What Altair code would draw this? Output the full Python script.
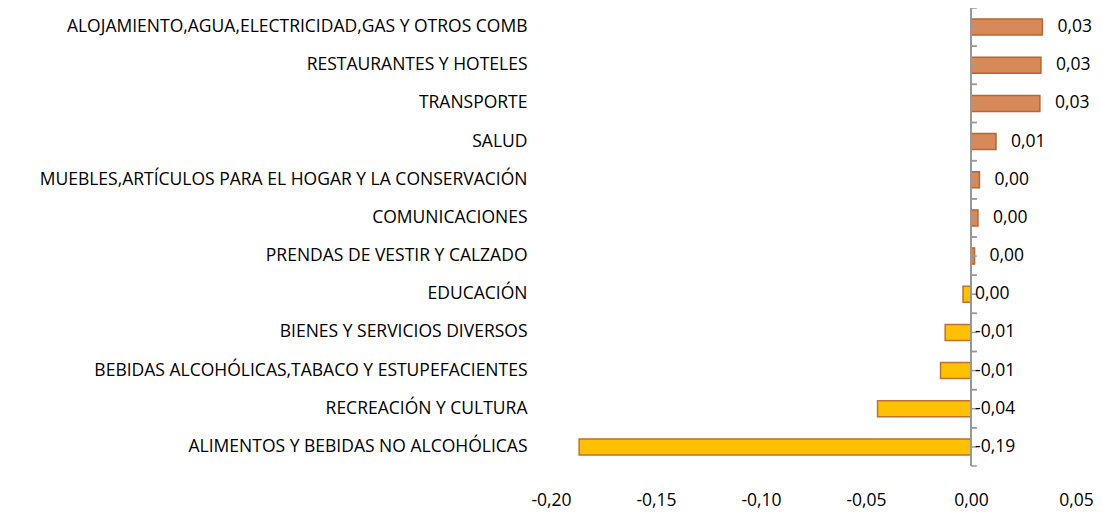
import altair as alt
import pandas as pd

categories = [
    "ALOJAMIENTO,AGUA,ELECTRICIDAD,GAS Y OTROS COMB",
    "RESTAURANTES Y HOTELES",
    "TRANSPORTE",
    "SALUD",
    "MUEBLES,ARTÍCULOS PARA EL HOGAR Y LA CONSERVACIÓN ",
    "COMUNICACIONES",
    "PRENDAS DE VESTIR Y CALZADO",
    "EDUCACIÓN",
    "BIENES Y SERVICIOS DIVERSOS",
    "BEBIDAS ALCOHÓLICAS,TABACO Y ESTUPEFACIENTES",
    "RECREACIÓN Y CULTURA",
    "ALIMENTOS Y BEBIDAS NO ALCOHÓLICAS",
]
values = [0.0340, 0.0333, 0.0328, 0.0119, 0.0040, 0.0033, 0.0017,
          -0.0038, -0.0123, -0.0145, -0.0445, -0.1866]
value_labels = ["0,03", "0,03", "0,03", "0,01", "0,00", "0,00", "0,00",
                "0,00", "-0,01", "-0,01", "-0,04", "-0,19"]
x_ticks = [-0.20, -0.15, -0.10, -0.05, 0.00, 0.05]

df = pd.DataFrame({"cat": categories, "v": values, "lab": value_labels})
df["lx"] = df["v"].clip(lower=0)
df["zero"] = 0.0
df["tickend"] = 0.0028

FONT = "Open Sans"
FS = 17.5
W, H = 525, 458

yscale = alt.Scale(paddingInner=0, paddingOuter=0)
xscale = alt.Scale(domain=[-0.2, 0.05], nice=False)

y_enc = alt.Y("cat:N", sort=categories, scale=yscale,
              axis=alt.Axis(title=None, ticks=False, domain=False,
                            labelPadding=24, labelLimit=700,
                            labelFontSize=FS, labelFont=FONT,
                            labelColor="#000000", labelAlign="right"))
x_enc = alt.X("v:Q", scale=xscale,
              axis=alt.Axis(title=None, values=x_ticks, grid=False,
                            ticks=False, domain=False, labelPadding=25,
                            labelFlush=False,
                            labelFontSize=FS, labelFont=FONT,
                            labelColor="#000000",
                            labelExpr="replace(replace(format(datum.value, '.2f'), '.', ','), '\u2212', '-')"))

base = alt.Chart(df)

bars = base.mark_bar(size=16, strokeWidth=1.5).encode(
    y=y_enc,
    x=x_enc,
    x2=alt.X2("zero:Q"),
    fill=alt.condition("datum.v >= 0", alt.value("#D8895A"), alt.value("#FFC000")),
    stroke=alt.condition("datum.v >= 0", alt.value("#B8652E"), alt.value("#BC7230")),
)

axis_line = base.mark_rule(color="#999999", strokeWidth=1.5).encode(
    x=alt.X("zero:Q", scale=xscale),
    y=alt.value(0),
    y2=alt.value(H),
)

def tick_layer(bp=None):
    if bp is None:
        yy = alt.Y("cat:N", sort=categories, scale=yscale)
    else:
        yy = alt.Y("cat:N", sort=categories, scale=yscale, bandPosition=bp)
    return base.mark_rule(color="#999999", strokeWidth=1.5).encode(
        y=yy,
        x=alt.X("zero:Q", scale=xscale),
        x2="tickend:Q",
    )

tick_top = tick_layer(0)
tick_bot = tick_layer(1)
tick_mid = tick_layer()

lab_pos = base.transform_filter("datum.v >= 0").mark_text(
    align="left", baseline="middle", dx=15, fontSize=FS, font=FONT, color="#000000"
).encode(
    y=alt.Y("cat:N", sort=categories, scale=yscale),
    x=alt.X("lx:Q", scale=xscale),
    text="lab:N",
)
lab_neg = base.transform_filter("datum.v < 0").mark_text(
    align="left", baseline="middle", dx=4, fontSize=FS, font=FONT, color="#000000"
).encode(
    y=alt.Y("cat:N", sort=categories, scale=yscale),
    x=alt.X("lx:Q", scale=xscale),
    text="lab:N",
)

chart = alt.layer(bars, axis_line, tick_top, tick_bot, tick_mid, lab_pos, lab_neg).properties(
    width=W, height=H,
    autosize=alt.AutoSizeParams(type="none"),
    padding={"left": 543, "top": 0, "right": 18, "bottom": 43},
).configure_view(stroke=None)

chart.save("out.html", embed_options={"renderer": "svg", "actions": False})
